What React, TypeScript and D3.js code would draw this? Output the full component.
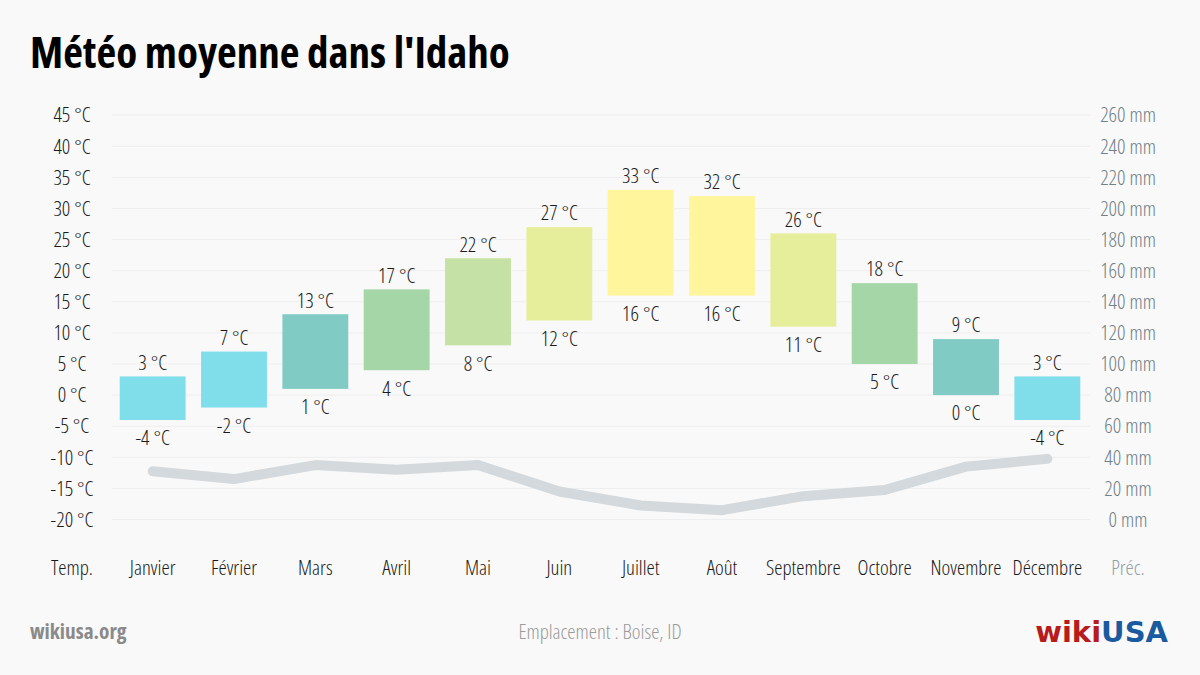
import React from 'react';
import * as d3 from 'd3';

const MONTHS = ['Janvier', 'Février', 'Mars', 'Avril', 'Mai', 'Juin', 'Juillet', 'Août', 'Septembre', 'Octobre', 'Novembre', 'Décembre'];
const TEMP_MAX = [3, 7, 13, 17, 22, 27, 33, 32, 26, 18, 9, 3];
const TEMP_MIN = [-4, -2, 1, 4, 8, 12, 16, 16, 11, 5, 0, -4];
const PRECIP = [31, 26, 35, 32, 35, 18, 9, 6, 15, 19, 34, 39];
const BAR_COLORS = ['#80deea', '#80deea', '#80cbc4', '#a5d6a7', '#c5e1a5', '#e6ee9c', '#fff59d', '#fff59d', '#e6ee9c', '#a5d6a7', '#80cbc4', '#80deea'];
const TEMP_TICKS = [45, 40, 35, 30, 25, 20, 15, 10, 5, 0, -5, -10, -15, -20];
const PRECIP_TICKS = [260, 240, 220, 200, 180, 160, 140, 120, 100, 80, 60, 40, 20, 0];

const W = 1200;
const H = 675;
const FONT = "'Open Sans', sans-serif";
const LIGHT = { fontFamily: FONT, fontStretch: 'condensed', fontWeight: 300 } as React.CSSProperties;
const BOLD = { fontFamily: FONT, fontStretch: 'condensed', fontWeight: 700 } as React.CSSProperties;
const FS = 20.8;

export default function App() {
  const x = d3.scaleBand<string>().domain(MONTHS).range([112, 1088]).paddingInner(0.19).paddingOuter(0.095);
  const yT = d3.scaleLinear().domain([-20, 45]).range([519.5, 115.2]);
  const yP = d3.scaleLinear().domain([0, 260]).range([519.5, 115.2]);

  // precipitation line through month centres
  const line = d3
    .line<number>()
    .x((_, i) => (x(MONTHS[i]) as number) + x.bandwidth() / 2)
    .y((d) => yP(d));

  return (
    <svg width={W} height={H} viewBox={`0 0 ${W} ${H}`} style={{ position: 'absolute', left: 0, top: 0, display: 'block' }}>
      <rect width={W} height={H} fill="#f9f9f9" />
      <text x={30} y={68} style={BOLD} fontSize={43} fill="#000">
        Météo moyenne dans l'Idaho
      </text>

      {/* grid */}
      {TEMP_TICKS.map((t) => (
        <line key={t} x1={112} x2={1090} y1={yT(t)} y2={yT(t)} stroke="#eeeeee" strokeWidth={1} />
      ))}

      {/* left axis */}
      {TEMP_TICKS.map((t) => (
        <text key={t} x={72} y={yT(t)} dy="0.35em" textAnchor="middle" style={LIGHT} fontSize={FS} fill="#1a1a1a">
          {`${t} °C`}
        </text>
      ))}
      {/* right axis */}
      {PRECIP_TICKS.map((p) => (
        <text key={p} x={1128} y={yP(p)} dy="0.35em" textAnchor="middle" style={LIGHT} fontSize={FS} fill="#6f8087">
          {`${p} mm`}
        </text>
      ))}

      {/* bars */}
      {MONTHS.map((m, i) => {
        const bx = x(m) as number;
        const top = yT(TEMP_MAX[i]);
        const bot = yT(TEMP_MIN[i]);
        const cx = bx + x.bandwidth() / 2;
        return (
          <g key={m}>
            <rect x={bx} y={top} width={x.bandwidth()} height={bot - top} fill={BAR_COLORS[i]} />
            <text x={cx} y={top - 14} dy="0.35em" textAnchor="middle" style={LIGHT} fontSize={FS} fill="#1a1a1a">
              {`${TEMP_MAX[i]} °C`}
            </text>
            <text x={cx} y={bot + 18} dy="0.35em" textAnchor="middle" style={LIGHT} fontSize={FS} fill="#1a1a1a">
              {`${TEMP_MIN[i]} °C`}
            </text>
          </g>
        );
      })}

      <path d={line(PRECIP) || ''} fill="none" stroke="#d3d9dc" strokeWidth={10} strokeLinecap="round" strokeLinejoin="round" />

      {/* month labels */}
      <text x={72} y={568} dy="0.35em" textAnchor="middle" style={LIGHT} fontSize={FS} fill="#1a1a1a">Temp.</text>
      {MONTHS.map((m) => (
        <text key={m} x={(x(m) as number) + x.bandwidth() / 2} y={568} dy="0.35em" textAnchor="middle" style={LIGHT} fontSize={FS} fill="#1a1a1a">
          {m}
        </text>
      ))}
      <text x={1128} y={568} dy="0.35em" textAnchor="middle" style={LIGHT} fontSize={FS} fill="#8fa0a6">Préc.</text>

      {/* footer */}
      <text x={30} y={632} dy="0.35em" style={BOLD} fontSize={21.3} fill="#8a8a8a">wikiusa.org</text>
      <text x={600} y={632} dy="0.35em" textAnchor="middle" style={LIGHT} fontSize={FS} fill="#9a9a9a">Emplacement : Boise, ID</text>
      <text x={1168} y={632} dy="0.35em" textAnchor="end" fontFamily="'DejaVu Sans', sans-serif" fontWeight="bold" fontSize={29}>
        <tspan fill="#b71c1c">wiki</tspan>
        <tspan fill="#1a5a9e">USA</tspan>
      </text>
    </svg>
  );
}
